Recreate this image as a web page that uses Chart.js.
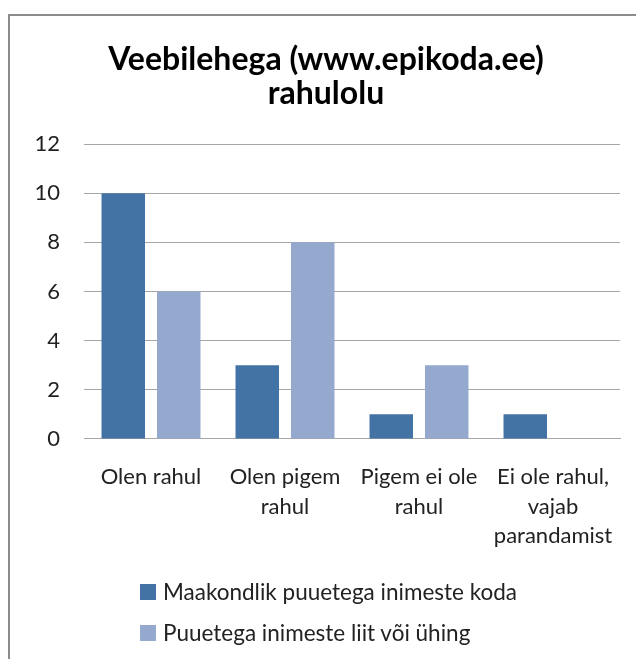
<!DOCTYPE html>
<html>
<head>
<meta charset="utf-8">
<script src="https://cdn.jsdelivr.net/npm/chart.js@4.4.1/dist/chart.umd.min.js"></script>
<style>
  html, body { margin: 0; padding: 0; background: #fff; overflow: hidden; }
  #frame {
    position: absolute; left: 8px; top: 14px; width: 660px; height: 680px;
    border-top: 2px solid #8c8c8c; border-left: 2px solid #8c8c8c;
  }
  #chartBox { position: absolute; left: 0; top: 0; width: 626px; height: 643px; }
  #legend {
    position: absolute; left: 130px; top: 555px;
    font-family: Lato, sans-serif; font-size: 22.5px; color: #222;
  }
  .item { display: flex; align-items: center; height: 41px; }
  .box { width: 16px; height: 16px; margin-right: 7px; }
</style>
</head>
<body>
<div id="frame">
  <div id="chartBox"><canvas id="grafico"></canvas></div>
  <div id="legend"></div>
</div>
<script>
const categorias = [
  ['Olen rahul'],
  ['Olen pigem', 'rahul'],
  ['Pigem ei ole', 'rahul'],
  ['Ei ole rahul,', 'vajab', 'parandamist']
];
const maakondlik = [10, 3, 1, 1];
const liit = [6, 8, 3, null];
const seeriaNimed = ['Maakondlik puuetega inimeste koda', 'Puuetega inimeste liit või ühing'];
const pealkiri = ['Veebilehega (www.epikoda.ee)', 'rahulolu'];

const font = 'Lato, sans-serif';

document.addEventListener('DOMContentLoaded', function() {
  const ctx = document.getElementById('grafico').getContext('2d');

  const chart = new Chart(ctx, {
    type: 'bar',
    data: {
      labels: categorias,
      datasets: [
        { label: seeriaNimed[0], data: maakondlik, backgroundColor: '#4373a5' },
        { label: seeriaNimed[1], data: liit, backgroundColor: '#95a9cf' }
      ]
    },
    options: {
      responsive: true,
      maintainAspectRatio: false,
      animation: false,
      layout: { padding: { left: 22, right: 16, top: 0, bottom: 85 } },
      datasets: { bar: { categoryPercentage: 0.828, barPercentage: 0.784 } },
      plugins: {
        legend: { display: false },
        tooltip: { enabled: false },
        title: {
          display: true,
          text: pealkiri,
          color: '#000',
          font: { family: font, size: 32, weight: 'bold', lineHeight: 1.08 },
          padding: { top: 26, bottom: 33 }
        }
      },
      scales: {
        x: {
          grid: { display: false, drawTicks: false },
          border: { display: true, color: '#a6a6a6', width: 1 },
          ticks: {
            color: '#222',
            font: { family: font, size: 22, lineHeight: 1.32 },
            padding: 24,
            maxRotation: 0,
            autoSkip: false
          },
          afterFit: function(scale) {
            scale.paddingLeft = 0;
            scale.paddingRight = 0;
          }
        },
        y: {
          min: 0,
          max: 12,
          grid: { color: '#a6a6a6', lineWidth: 1, drawTicks: false },
          border: { display: false },
          ticks: {
            stepSize: 2,
            color: '#222',
            font: { family: font, size: 22 },
            padding: 24
          },
          afterFit: function(scale) {
            scale.width = 52;
          }
        }
      }
    }
  });

  // legenda HTML-is, et read oleksid vasakule joondatud nagu Excelis
  const legendEl = document.getElementById('legend');
  chart.data.datasets.forEach(function(ds) {
    const row = document.createElement('div');
    row.className = 'item';
    const box = document.createElement('span');
    box.className = 'box';
    box.style.background = ds.backgroundColor;
    const txt = document.createElement('span');
    txt.textContent = ds.label;
    row.appendChild(box);
    row.appendChild(txt);
    legendEl.appendChild(row);
  });
});
</script>
</body>
</html>
